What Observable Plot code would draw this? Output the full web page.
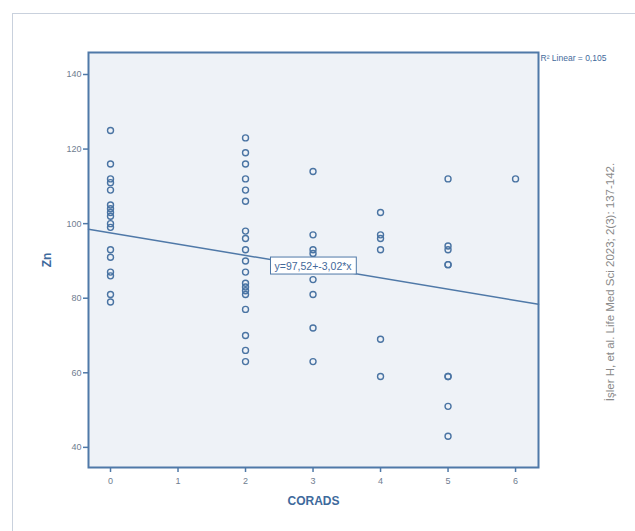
<!DOCTYPE html>
<html><head><meta charset="utf-8">
<script src="https://cdn.jsdelivr.net/npm/d3@7"></script>
<script src="https://cdn.jsdelivr.net/npm/@observablehq/plot@0.6"></script>
<style>
body{margin:0;background:#fff;}
#wrap{position:relative;width:635px;height:531px;overflow:hidden;}
#border{position:absolute;left:12px;top:13px;width:700px;height:600px;border:1px solid #c9d1dd;}
#chart{position:absolute;left:0;top:0;}
</style></head><body>
<div id="wrap"><div id="border"></div><div id="chart"></div></div>
<script>
// Zn values by CORADS category
const coradsCategories = [0, 2, 3, 4, 5, 6];
const znCorads0 = [125, 116, 112, 111, 109, 105, 104, 103, 102, 100, 99, 93, 91, 87, 86, 81, 79];
const znCorads2 = [123, 119, 116, 112, 109, 106, 98, 96, 93, 90, 87, 84, 83, 82, 81, 77, 70, 66, 63];
const znCorads3 = [114, 97, 93, 92, 85, 81, 72, 63];
const znCorads4 = [103, 97, 96, 93, 69, 59];
const znCorads5 = [112, 94, 93, 89, 89, 59, 59, 51, 43];
const znCorads6 = [112];
const xTicks = [0, 1, 2, 3, 4, 5, 6];
const yTicks = [40, 60, 80, 100, 120, 140];
const intercept = 97.52;
const slope = -3.02;
const equationText = "y=97,52+-3,02*x";
const r2Text = "R² Linear = 0,105";
const xTitle = "CORADS";
const yTitle = "Zn";
const citation = "İşler H, et al. Life Med Sci 2023; 2(3): 137-142.";

const series = [znCorads0, znCorads2, znCorads3, znCorads4, znCorads5, znCorads6];
const points = [];
coradsCategories.forEach((c, i) => series[i].forEach(v => points.push({corads: c, zn: v})));

const xDomain = [-0.326, 6.34];
const yDomain = [34.6, 145.9];
const fitLine = xDomain.map(x => ({x, y: intercept + slope * x}));

const blue = "#4f79a8";
const tickGrey = "#6f7d90";
const titleBlue = "#3e6a9c";

const chart = Plot.plot({
  width: 635, height: 531,
  marginLeft: 88, marginTop: 52, marginRight: 97, marginBottom: 64,
  x: {domain: xDomain},
  y: {domain: yDomain},
  style: {background: "transparent", fontFamily: "'Liberation Sans', Arial, sans-serif"},
  marks: [
    Plot.frame({fill: "#eef2f7", stroke: null}),
    Plot.axisY(yTicks, {tickSize: 5, tickPadding: 2, stroke: blue, strokeWidth: 1.5, fill: tickGrey, fontSize: 9, label: null}),
    Plot.axisX(xTicks, {tickSize: 5, tickPadding: 5, stroke: blue, strokeWidth: 1.5, fill: tickGrey, fontSize: 9, label: null}),
    Plot.line(fitLine, {x: "x", y: "y", stroke: blue, strokeWidth: 1.5}),
    Plot.dot(points, {x: "corads", y: "zn", r: 3, stroke: "#4a74a3", strokeWidth: 1.4, fill: "none"}),
    Plot.text([equationText], {x: () => 3, y: () => intercept + slope * 3, text: d => d, fill: "#44699a", fontSize: 10.5, className: "eqlabel"}),
    Plot.text([r2Text], {frameAnchor: "top-right", textAnchor: "start", lineAnchor: "top", dx: 2, dy: 2, fontSize: 8.5, fill: "#3f6a9b", text: d => d}),
    Plot.text([yTitle], {frameAnchor: "left", textAnchor: "middle", dx: -41, rotate: -90, fontWeight: "bold", fontSize: 12, fill: titleBlue, text: d => d}),
    Plot.text([xTitle], {frameAnchor: "bottom", dy: 37, fontWeight: "bold", fontSize: 12, fill: titleBlue, text: d => d}),
    Plot.text([citation], {frameAnchor: "right", textAnchor: "middle", dx: 72, dy: 22, rotate: -90, fontSize: 11.5, fill: "#8a8a8a", text: d => d}),
    Plot.frame({stroke: blue, strokeWidth: 2, fill: null})
  ]
});
document.getElementById("chart").appendChild(chart);

// white box behind the equation label
const eqG = d3.select(chart).select("g.eqlabel");
eqG.selectAll("text").each(function() {
  const b = this.getBBox();
  d3.select(this.parentNode).insert("rect", () => this)
    .attr("transform", this.getAttribute("transform"))
    .attr("x", b.x - 4).attr("y", b.y - 3)
    .attr("width", b.width + 8).attr("height", b.height + 5)
    .attr("fill", "#ffffff").attr("stroke", blue).attr("stroke-width", 1);
});
</script>
</body></html>
